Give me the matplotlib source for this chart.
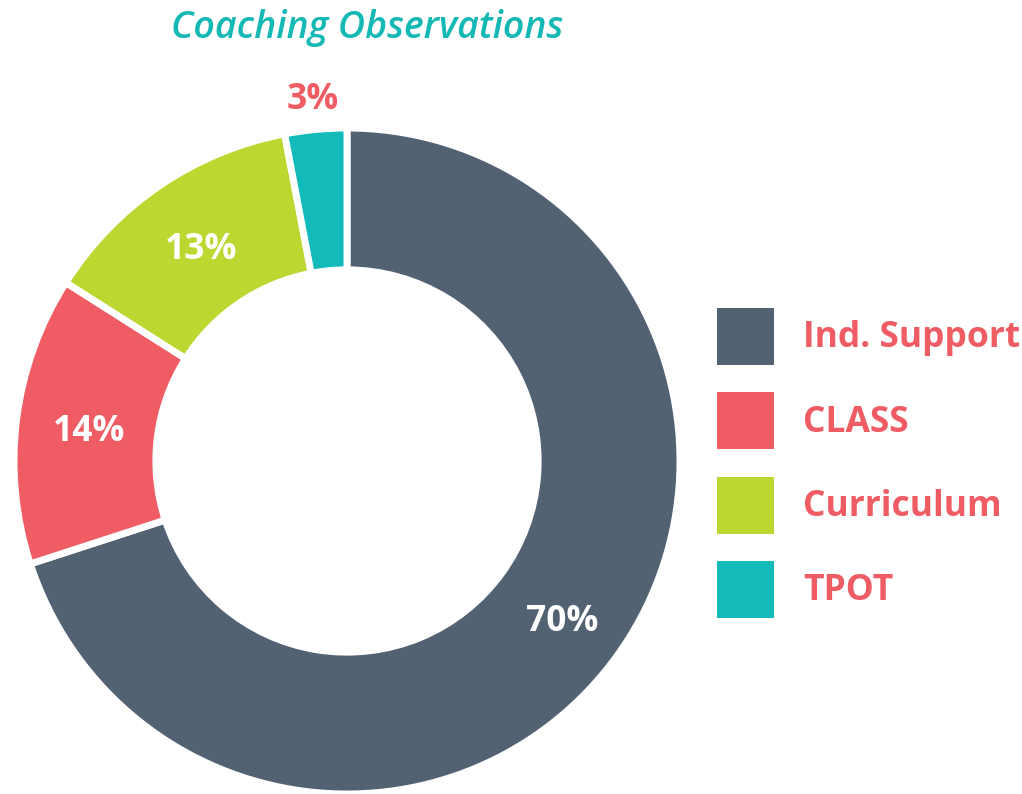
import numpy as np
import matplotlib
matplotlib.use("Agg")
import matplotlib.pyplot as plt
from matplotlib.patches import Rectangle

plt.rcParams['font.family'] = ['Open Sans', 'DejaVu Sans']

# data
categories = ['Ind. Support', 'CLASS', 'Curriculum', 'TPOT']
values = [70, 14, 13, 3]
colors = ['#526273', '#EF5C64', '#BDD630', '#12BBBA']
label_colors = ['white', 'white', 'white', '#EF5C64']
label_radius = [0.80, 0.78, 0.78, 1.10]

W, H = 1022, 794
fig = plt.figure(figsize=(W / 100, H / 100), dpi=100)
ax = fig.add_axes([14 / W, 0, 666 / W, 666 / H])

wedges, _ = ax.pie(values, colors=colors, startangle=90, counterclock=False,
                   wedgeprops=dict(width=0.426, edgecolor='white', linewidth=5))
ax.set_xlim(-1, 1)
ax.set_ylim(-1, 1)
ax.set_aspect('equal')
ax.axis('off')

# percent labels at the middle angle of each wedge
for w, v, c, r in zip(wedges, values, label_colors, label_radius):
    ang = np.deg2rad((w.theta1 + w.theta2) / 2)
    ax.text(r * np.cos(ang), r * np.sin(ang) - 0.012, f'{v}%', ha='center', va='center',
            fontsize=25.5, fontweight='bold', color=c, clip_on=False)

fig.text(367 / W, 1 - 28 / H, 'Coaching Observations', ha='center', va='center',
         fontsize=27, fontweight='semibold', style='italic', color='#14B8B4')

# legend drawn by hand: square swatch + label per row
box = 57
top0 = 308
pitch = 84.3
for i, (name, c) in enumerate(zip(categories, colors)):
    top = top0 + i * pitch
    fig.patches.append(Rectangle((717 / W, 1 - (top + box) / H), box / W, box / H,
                                 facecolor=c, edgecolor='none',
                                 transform=fig.transFigure, figure=fig))
    fig.text(803 / W, 1 - (top + box / 2 + 11) / H, name, ha='left', va='baseline',
             fontsize=25.5, fontweight='bold', color='#EF5C64')

plt.savefig('out.png', dpi=100)
